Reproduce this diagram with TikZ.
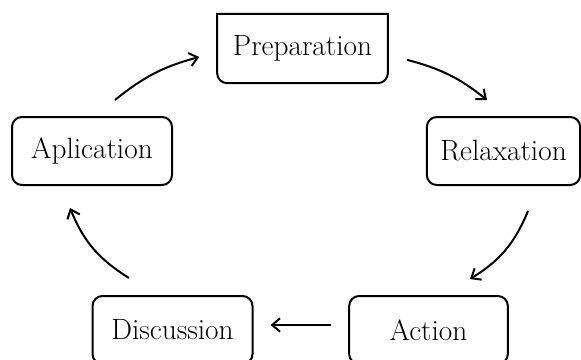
\documentclass[tikz,border=0pt]{standalone}
\usetikzlibrary{arrows.meta}

\tikzset{
    stage/.style={draw, line width=1.5pt, rounded corners=7.5pt, align=center,
        minimum height=51pt, inner sep=0pt, font=\fontsize{22}{26}\selectfont},
    arr/.style={->, line width=1.5pt, >={Straight Barb[length=6pt,width=10pt]}}
}

\begin{document}
\begin{tikzpicture}[x=0.75pt, y=-0.75pt]
            \clip (0,0) rectangle (581,360);

            \node[stage, draw=none, outer sep=0pt, minimum width=128pt, minimum height=52pt] (prep) at (302.5, 48.5) {Preparation};
            \node[stage, minimum width=115pt] (relax) at (503.5, 151) {Relaxation};
            \node[stage, minimum width=120pt] (appl) at (92, 151) {Aplication};
            \node[stage, minimum width=119pt] (act) at (428.5, 330) {Action};
            \node[stage, minimum width=120pt] (disc) at (172.5, 330) {Discussion};

            % square top, round bottom
            \draw[line width=1.5pt] (prep.north west) -- (prep.north east)
                -- ([yshift=7.5pt]prep.south east) arc[start angle=0, end angle=-90, radius=7.5pt]
                -- ([xshift=7.5pt]prep.south west) arc[start angle=270, end angle=180, radius=7.5pt]
                -- cycle;

            \path[arr]
            ([shift={(23,-16)}]appl.north) edge [bend left=12] ([shift={(-18,8.5)}]prep.west)
            ([shift={(104.5,46)}]prep.north) edge [bend left=12] ([shift={(-16.5,-16)}]relax.north)
            ([shift={(24.5,25)}]relax.south) edge [bend left=18] ([shift={(41.5,-16)}]act.north)
            ([shift={(-17,-5)}]act.west) edge ([shift={(17,-5)}]disc.east)
            ([shift={(-43.5,-17)}]disc.north) edge [bend left=18] ([shift={(-22,22)}]appl.south)

            ;
        \end{tikzpicture}
\end{document}
